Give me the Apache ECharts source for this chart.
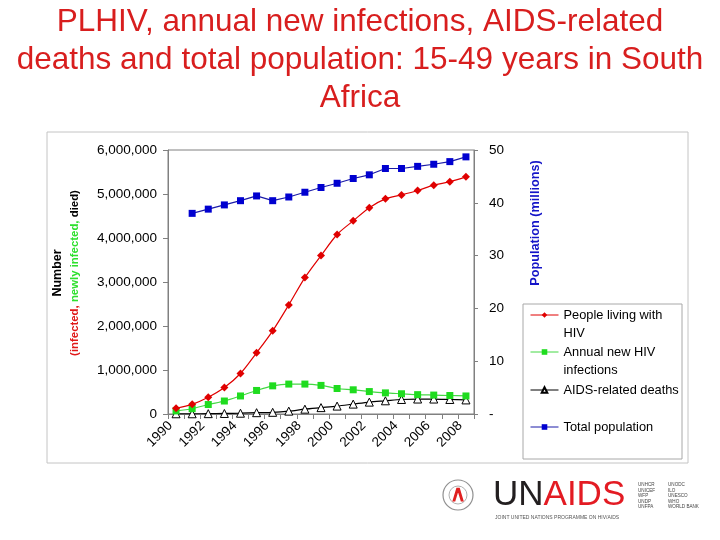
<!DOCTYPE html>
<html>
<head>
<meta charset="utf-8">
<script src="https://cdn.jsdelivr.net/npm/echarts@6/dist/echarts.min.js"></script>
<style>html,body{margin:0;padding:0;background:#fff}#c{width:720px;height:540px}</style>
</head>
<body>
<div id="c"></div>
<script>
var years = ['1990','1991','1992','1993','1994','1995','1996','1997','1998','1999','2000','2001','2002','2003','2004','2005','2006','2007','2008'];
var plhiv = [130000, 220000, 380000, 600000, 920000, 1390000, 1890000, 2480000, 3100000, 3600000, 4080000, 4390000, 4690000, 4890000, 4980000, 5080000, 5200000, 5280000, 5390000];
var newInfections = [70000, 120000, 215000, 295000, 410000, 535000, 640000, 680000, 680000, 650000, 580000, 550000, 510000, 480000, 460000, 440000, 430000, 420000, 410000];
var deaths = [5000, 5000, 8000, 12000, 18000, 30000, 38000, 65000, 110000, 145000, 180000, 225000, 270000, 300000, 330000, 340000, 340000, 330000, 320000];
var population = [null, 38.0, 38.8, 39.6, 40.4, 41.3, 40.4, 41.1, 42.0, 42.9, 43.7, 44.6, 45.3, 46.5, 46.5, 46.9, 47.3, 47.8, 48.7];
var leftTicks = [0, 1000000, 2000000, 3000000, 4000000, 5000000, 6000000];
var rightTicks = [0, 10, 20, 30, 40, 50];
var seriesNames = ['People living with HIV', 'Annual new HIV infections', 'AIDS-related deaths', 'Total population'];
var legendLabels = ['\nPeople living with\nHIV', '\nAnnual new HIV\ninfections', 'AIDS-related deaths', 'Total population'];

var FONT = 'Liberation Sans, Arial, sans-serif';
var chart = echarts.init(document.getElementById('c'), null, {renderer: 'canvas'});

function mkLegend(i, top) {
  return {
    data: [seriesNames[i]],
    orient: 'vertical',
    left: 530, top: top,
    padding: 0, itemGap: 0,
    itemWidth: 28, itemHeight: 7,
    selectedMode: false,
    lineStyle: {width: 1},
    formatter: function (n) { return legendLabels[seriesNames.indexOf(n)]; },
    textStyle: {fontFamily: FONT, fontSize: 12.8, lineHeight: 18, color: '#000'}
  };
}

var option = {
  backgroundColor: '#fff',
  animation: false,
  title: {
    text: 'PLHIV, annual new infections, AIDS-related\ndeaths and total population: 15-49 years in South\nAfrica',
    left: 'center', top: 3, padding: 0,
    textStyle: {fontFamily: FONT, fontSize: 31.5, lineHeight: 38, fontWeight: 'normal', color: '#d81e1e'}
  },
  legend: [mkLegend(0, 288), mkLegend(1, 325), mkLegend(2, 381), mkLegend(3, 418)],
  grid: {left: 168, right: 246, top: 150, bottom: 126, show: true, borderColor: '#808080', borderWidth: 1, containLabel: false, outerBoundsMode: 'none'},
  xAxis: {
    type: 'category', data: years, boundaryGap: true,
    axisLine: {lineStyle: {color: '#808080'}},
    axisTick: {show: true, interval: 0, length: 5, lineStyle: {color: '#808080'}},
    axisLabel: {interval: 1, rotate: 45, fontFamily: FONT, fontSize: 13.5, color: '#000', margin: 4, padding: [0, 8, 0, 0]},
    splitLine: {show: false}
  },
  yAxis: [{
    type: 'value', min: leftTicks[0], max: leftTicks[leftTicks.length - 1], interval: leftTicks[1] - leftTicks[0],
    axisLine: {show: true, lineStyle: {color: '#808080'}},
    axisTick: {show: true, length: 5, lineStyle: {color: '#808080'}},
    axisLabel: {fontFamily: FONT, fontSize: 13.5, color: '#000', margin: 11,
      formatter: function (v) { return v.toString().replace(/\B(?=(\d{3})+(?!\d))/g, ','); }},
    splitLine: {show: false}
  }, {
    type: 'value', position: 'right', min: rightTicks[0], max: rightTicks[rightTicks.length - 1], interval: rightTicks[1] - rightTicks[0],
    axisLine: {show: true, lineStyle: {color: '#808080'}},
    axisTick: {show: true, length: 4, lineStyle: {color: '#808080'}},
    axisLabel: {fontFamily: FONT, fontSize: 13.5, color: '#000', margin: 15,
      formatter: function (v) { return v === 0 ? '-' : String(v); }},
    splitLine: {show: false}
  }],
  series: [{
    name: seriesNames[0], type: 'line', data: plhiv, smooth: 0.3,
    symbol: 'diamond', symbolSize: 8, z: 4,
    itemStyle: {color: '#e00000'}, lineStyle: {color: '#e00000', width: 1.2}
  }, {
    name: seriesNames[1], type: 'line', data: newInfections, smooth: 0.3,
    symbol: 'rect', symbolSize: 7, z: 3,
    itemStyle: {color: '#1fdc1f'}, lineStyle: {color: '#44d844', width: 1.2}
  }, {
    name: seriesNames[2], type: 'line', data: deaths, smooth: 0.3,
    symbol: 'triangle', symbolSize: 8, z: 2,
    itemStyle: {color: '#ffffff', borderColor: '#000', borderWidth: 1}, lineStyle: {color: '#000', width: 1.2}
  }, {
    name: seriesNames[3], type: 'line', data: population, yAxisIndex: 1,
    symbol: 'rect', symbolSize: 7, z: 5,
    itemStyle: {color: '#0000d0'}, lineStyle: {color: '#1a1aa8', width: 1.2}
  }],
  graphic: [
    {type: 'rect', shape: {x: 47, y: 132, width: 641, height: 331}, style: {fill: 'none', stroke: '#c4c4c4', lineWidth: 1}, z: -10, silent: true},
    {type: 'rect', shape: {x: 523, y: 304, width: 159, height: 155}, style: {fill: 'none', stroke: '#a8a8a8', lineWidth: 1}, z: -10, silent: true},
    {type: 'text', x: 66.5, y: 273, rotation: Math.PI / 2, silent: true,
      style: {
        text: '{n|Number}\n{r|(infected, }{g|newly infected, }{k|died)}',
        align: 'center', verticalAlign: 'middle',
        rich: {
          n: {fontFamily: FONT, fontSize: 12.5, fontWeight: 'bold', fill: '#000', lineHeight: 17},
          r: {fontFamily: FONT, fontSize: 11.4, fontWeight: 'bold', fill: '#e01818', lineHeight: 17},
          g: {fontFamily: FONT, fontSize: 11.4, fontWeight: 'bold', fill: '#2ee02e', lineHeight: 17},
          k: {fontFamily: FONT, fontSize: 11.4, fontWeight: 'bold', fill: '#000', lineHeight: 17}
        }
      }},
    {type: 'text', x: 535, y: 223, rotation: Math.PI / 2, silent: true,
      style: {text: 'Population (millions)', align: 'center', verticalAlign: 'middle',
        fontFamily: FONT, fontSize: 12.7, fontWeight: 'bold', fill: '#1414c8'}},
    {type: 'circle', shape: {cx: 458, cy: 495, r: 15}, style: {fill: 'none', stroke: '#909090', lineWidth: 1.2}, silent: true},
    {type: 'circle', shape: {cx: 458, cy: 495, r: 9}, style: {fill: 'none', stroke: '#b0b0b0', lineWidth: 1}, silent: true},
    {type: 'text', x: 458, y: 495, silent: true,
      style: {text: '\u2227', align: 'center', verticalAlign: 'middle', fontFamily: FONT, fontSize: 22, fontWeight: 'bold', fill: '#e02020'}},
    {type: 'text', x: 493, y: 495, silent: true,
      style: {text: '{u|UN}{a|AIDS}', verticalAlign: 'middle',
        rich: {u: {fontFamily: FONT, fontSize: 35, fill: '#231f20'}, a: {fontFamily: FONT, fontSize: 35, fill: '#e31b23'}}}},
    {type: 'text', x: 495, y: 518, silent: true,
      style: {text: 'JOINT UNITED NATIONS PROGRAMME ON HIV/AIDS', verticalAlign: 'middle', fontFamily: FONT, fontSize: 5, fill: '#555'}},
    {type: 'text', x: 638, y: 482, silent: true,
      style: {text: 'UNHCR\nUNICEF\nWFP\nUNDP\nUNFPA', verticalAlign: 'top', fontFamily: FONT, fontSize: 4.6, lineHeight: 5.6, fill: '#444'}},
    {type: 'text', x: 668, y: 482, silent: true,
      style: {text: 'UNODC\nILO\nUNESCO\nWHO\nWORLD BANK', verticalAlign: 'top', fontFamily: FONT, fontSize: 4.6, lineHeight: 5.6, fill: '#444'}}
  ]
};
chart.setOption(option);
</script>
</body>
</html>
